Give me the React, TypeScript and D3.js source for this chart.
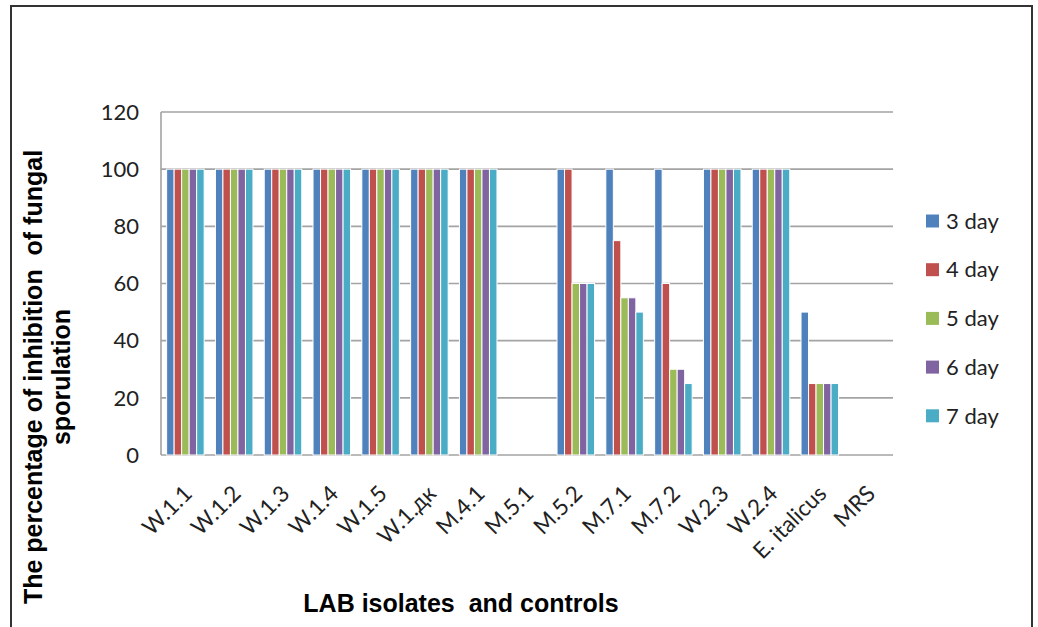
import React from "react";
import * as d3 from "d3";

const categories = [
  "W.1.1", "W.1.2", "W.1.3", "W.1.4", "W.1.5", "W.1.дк", "M.4.1", "M.5.1",
  "M.5.2", "M.7.1", "M.7.2", "W.2.3", "W.2.4", "E. italicus", "MRS",
];
const seriesNames = ["3 day", "4 day", "5 day", "6 day", "7 day"];
const day3 = [100, 100, 100, 100, 100, 100, 100, 0, 100, 100, 100, 100, 100, 50, 0];
const day4 = [100, 100, 100, 100, 100, 100, 100, 0, 100, 75, 60, 100, 100, 25, 0];
const day5 = [100, 100, 100, 100, 100, 100, 100, 0, 60, 55, 30, 100, 100, 25, 0];
const day6 = [100, 100, 100, 100, 100, 100, 100, 0, 60, 55, 30, 100, 100, 25, 0];
const day7 = [100, 100, 100, 100, 100, 100, 100, 0, 60, 50, 25, 100, 100, 25, 0];
const yTicks = [0, 20, 40, 60, 80, 100, 120];
const colors = ["#4F81BD", "#C0504D", "#9BBB59", "#8064A2", "#4BACC6"];

const seriesValues = [day3, day4, day5, day6, day7];

const W = 1038;
const H = 627;
const plot = { left: 161, right: 893, top: 112, bottom: 455 };

export default function App() {
  const x0 = d3
    .scaleBand<string>()
    .domain(categories)
    .range([plot.left, plot.right])
    .paddingInner(0)
    .paddingOuter(0);
  const x1 = d3
    .scaleBand<string>()
    .domain(seriesNames)
    .range([0, x0.bandwidth()])
    .paddingInner(0)
    .paddingOuter(0.75);
  const y = d3.scaleLinear().domain([0, 120]).range([plot.bottom, plot.top]);

  const tickFont = "Lato, 'Open Sans', sans-serif";
  const titleFont = "'Liberation Sans', Arial, sans-serif";

  return (
    <svg
      width={W}
      height={H}
      viewBox={`0 0 ${W} ${H}`}
      style={{ position: "absolute", left: 0, top: 0, background: "#fff" }}
    >
      <rect x={0} y={0} width={W} height={H} fill="#fff" />
      {/* chart frame */}
      <rect x={11} y={6} width={1021} height={H + 20} fill="none" stroke="#333" strokeWidth={2} />

      {/* gridlines */}
      {yTicks.map((t) => (
        <line
          key={`g${t}`}
          x1={plot.left}
          x2={plot.right}
          y1={y(t)}
          y2={y(t)}
          stroke="#a3a3a3"
          strokeWidth={1.6}
        />
      ))}
      <line x1={plot.left} x2={plot.left} y1={plot.top} y2={plot.bottom} stroke="#a3a3a3" strokeWidth={1.6} />

      {/* bars */}
      {categories.map((c, ci) => (
        <g key={c}>
          {seriesNames.map((s, si) => {
            const v = seriesValues[si][ci];
            if (v <= 0) return null;
            const bx = (x0(c) as number) + (x1(s) as number);
            return (
              <rect
                key={s}
                x={bx}
                y={y(v)}
                width={x1.bandwidth()}
                height={y(0) - y(v)}
                fill={colors[si]}
                stroke="#fff"
                strokeWidth={1}
              />
            );
          })}
        </g>
      ))}

      {/* y tick labels */}
      {yTicks.map((t) => (
        <text
          key={`t${t}`}
          x={139}
          y={y(t)}
          dy="0.35em"
          textAnchor="end"
          fontFamily={tickFont}
          fontSize={22}
          fill="#222"
        >
          {t}
        </text>
      ))}

      {/* x category labels */}
      {categories.map((c) => {
        const cx = (x0(c) as number) + x0.bandwidth() / 2;
        return (
          <text
            key={`x${c}`}
            transform={`translate(${cx + 8},${plot.bottom + 40}) rotate(-45)`}
            textAnchor="end"
            fontFamily={tickFont}
            fontSize={22.5}
            fill="#222"
          >
            {c}
          </text>
        );
      })}

      {/* axis titles */}
      <text
        x={461}
        y={612}
        textAnchor="middle"
        fontFamily={titleFont}
        fontWeight="bold"
        fontSize={25}
        fill="#000"
        style={{ whiteSpace: "pre" }}
      >
        {"LAB isolates  and controls"}
      </text>
      <g transform="translate(0,377) rotate(-90)">
        <text
          x={0}
          y={42}
          textAnchor="middle"
          fontFamily={titleFont}
          fontWeight="bold"
          fontSize={25}
          fill="#000"
          style={{ whiteSpace: "pre" }}
        >
          {"The percentage of inhibition  of fungal"}
        </text>
        <text
          x={0}
          y={70}
          textAnchor="middle"
          fontFamily={titleFont}
          fontWeight="bold"
          fontSize={25}
          fill="#000"
        >
          sporulation
        </text>
      </g>

      {/* legend */}
      {seriesNames.map((s, i) => {
        const cy = 221 + i * 48.7;
        return (
          <g key={`l${s}`}>
            <rect x={926} y={cy - 6.5} width={13} height={13} fill={colors[i]} />
            <text
              x={946}
              y={cy}
              dy="0.35em"
              fontFamily={tickFont}
              fontSize={22}
              fill="#222"
            >
              {s}
            </text>
          </g>
        );
      })}
    </svg>
  );
}
